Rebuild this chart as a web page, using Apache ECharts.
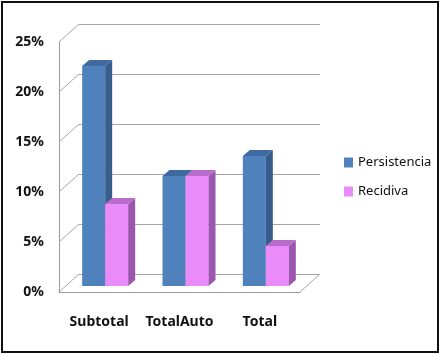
<!DOCTYPE html>
<html>
<head>
<meta charset="utf-8">
<script src="https://cdn.jsdelivr.net/npm/echarts@6/dist/echarts.min.js"></script>
<style>
  html, body { margin: 0; padding: 0; background: #fff; }
  #box { position: absolute; left: 1px; top: 1px; width: 434px; height: 348px; border: 2px solid #111; }
  #chart { width: 441px; height: 354px; }
</style>
</head>
<body>
<div id="chart"></div>
<div id="box"></div>
<script>
const categories = ["Subtotal", "TotalAuto", "Total"];
const persistencia = [22, 11, 13];
const recidiva = [8.2, 11, 4];
const yTicks = [0, 5, 10, 15, 20, 25];

// 3d look: wall depth and bar plane offset (px)
const wallDx = 20, wallDy = -18;
const barDx = 6, barDy = -6;
const sideDx = 7, sideDy = -6;
const barW = 23;

const colors = [
  { face: "#4f81bd", side: "#385d8a", top: "#3f6aa0" },
  { face: "#e98cf9", side: "#9b57ad", top: "#b86ccb" }
];

function barItem(sIdx) {
  return function (params, api) {
    const i = api.value(0);
    const v = api.value(1);
    const base = api.coord([i, 0]);
    const top = api.coord([i, v]);
    const x0 = base[0] + barDx + (sIdx === 0 ? -barW : 0);
    const x1 = x0 + barW;
    const yb = base[1] + barDy;
    const yt = top[1] + barDy;
    const c = colors[sIdx];
    return {
      type: "group",
      children: [
        { type: "rect", shape: { x: x0, y: yt, width: barW, height: yb - yt }, style: { fill: c.face } },
        { type: "polygon", shape: { points: [[x1, yt], [x1 + sideDx, yt + sideDy], [x1 + sideDx, yb + sideDy], [x1, yb]] }, style: { fill: c.side } },
        { type: "polygon", shape: { points: [[x0, yt], [x0 + sideDx, yt + sideDy], [x1 + sideDx, yt + sideDy], [x1, yt]] }, style: { fill: c.top } }
      ]
    };
  };
}

const chart = echarts.init(document.getElementById("chart"));
chart.setOption({
  backgroundColor: "#fff",
  animation: false,
  textStyle: { fontFamily: "Noto Sans" },
  legend: {
    orient: "vertical",
    left: 339,
    top: 151,
    itemWidth: 9,
    itemHeight: 10,
    itemGap: 16,
    itemTextGap: 4,
    icon: "rect",
    textStyle: { fontSize: 13, color: "#111", fontFamily: "Noto Sans" },
    data: ["Persistencia", "Recidiva"]
  },
  grid: [
    { left: 59, top: 42, width: 241, height: 250 },
    { left: 59 + wallDx, top: 42 + wallDy, width: 241, height: 250 }
  ],
  xAxis: [
    {
      gridIndex: 0, type: "category", data: categories,
      axisLine: { lineStyle: { color: "#9a9a9a", width: 1 } },
      axisTick: { length: 6, lineStyle: { color: "#9a9a9a" } },
      axisLabel: { interval: 0, margin: 23, fontSize: 14, fontWeight: "bold", color: "#111" }
    },
    { gridIndex: 1, type: "category", data: categories, show: false }
  ],
  yAxis: [
    {
      gridIndex: 0, type: "value", min: 0, max: 25, interval: 5,
      axisLine: { show: true, lineStyle: { color: "#9a9a9a" } },
      axisTick: { show: false },
      splitLine: { show: false },
      axisLabel: { formatter: "{value}%", margin: 15, fontSize: 14, fontWeight: "bold", color: "#111" }
    },
    {
      gridIndex: 1, type: "value", min: 0, max: 25, interval: 5,
      axisLine: { show: false }, axisTick: { show: false }, axisLabel: { show: false },
      splitLine: { show: true, lineStyle: { color: "#a6a6a6", width: 1 } }
    }
  ],
  series: [
    {
      type: "custom", xAxisIndex: 0, yAxisIndex: 0, silent: true,
      data: yTicks.map(v => [0, v]),
      renderItem: function (params, api) {
        const v = api.value(1);
        const cs = params.coordSys;
        const y = api.coord([0, v])[1];
        const kids = [
          { type: "line", shape: { x1: cs.x, y1: y, x2: cs.x + wallDx, y2: y + wallDy }, style: { stroke: "#a6a6a6", lineWidth: 1 } }
        ];
        if (v === 0) {
          kids.push({ type: "line", shape: { x1: cs.x + cs.width, y1: y, x2: cs.x + cs.width + wallDx, y2: y + wallDy }, style: { stroke: "#a6a6a6", lineWidth: 1 } });
        }
        return { type: "group", children: kids };
      },
      z: 1
    },
    {
      name: "Persistencia", type: "custom", xAxisIndex: 0, yAxisIndex: 0,
      itemStyle: { color: colors[0].face },
      data: persistencia.map((v, i) => [i, v]),
      renderItem: barItem(0), z: 3
    },
    {
      name: "Recidiva", type: "custom", xAxisIndex: 0, yAxisIndex: 0,
      itemStyle: { color: colors[1].face },
      data: recidiva.map((v, i) => [i, v]),
      renderItem: barItem(1), z: 4
    }
  ]
});
</script>
</body>
</html>
